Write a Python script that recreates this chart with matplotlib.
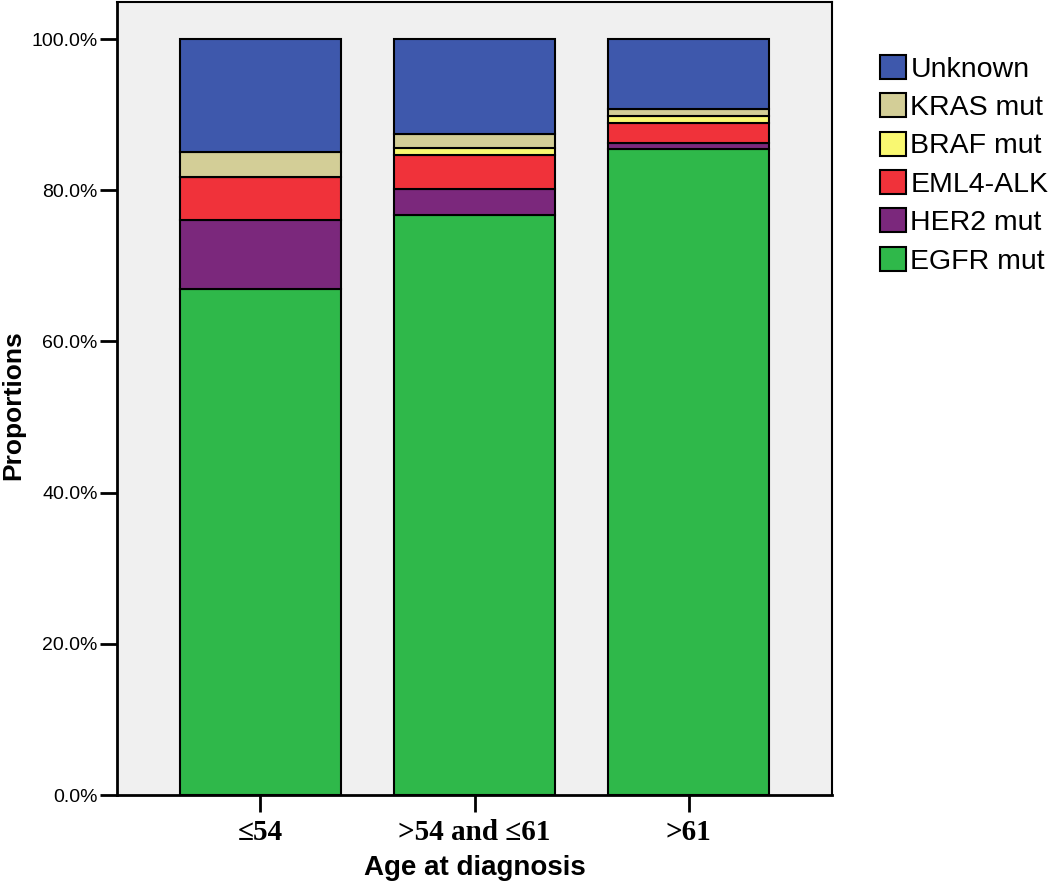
import numpy as np
import matplotlib
matplotlib.use('Agg')
import matplotlib.pyplot as plt
from matplotlib.ticker import PercentFormatter

plt.rcParams['font.family'] = ['Liberation Sans', 'DejaVu Sans']

# 数据
groups = ['≤54', '>54 and ≤61', '>61']
egfr = [66.9, 76.7, 85.5]
her2 = [9.2, 3.5, 0.8]
eml4 = [5.7, 4.5, 2.6]
braf = [0.0, 0.9, 0.9]
kras = [3.3, 1.9, 0.9]
unknown = [14.9, 12.5, 9.3]

series = [('EGFR mut', egfr, '#2fb84a'),
          ('HER2 mut', her2, '#7b287c'),
          ('EML4-ALK', eml4, '#f0323a'),
          ('BRAF mut', braf, '#f9f871'),
          ('KRAS mut', kras, '#d3ce97'),
          ('Unknown', unknown, '#3e58ac')]

serif = ['Liberation Serif', 'DejaVu Serif']

fig = plt.figure(figsize=(10.5, 8.84), dpi=100)
ax = fig.add_axes([117/1050, 1 - 795/884, (832 - 117)/1050, (795 - 2)/884])
ax.set_facecolor('#f0f0f0')

x = np.arange(len(groups))
bottom = np.zeros(len(groups))
handles = []
for name, vals, col in series:
    b = ax.bar(x, vals, 0.75, bottom=bottom, color=col, edgecolor='black',
               linewidth=1.5, label=name)
    handles.append(b)
    bottom += np.array(vals)

ax.set_xlim(-0.668, 2.668)
ax.set_ylim(0, 104.9)
ax.set_yticks([0, 20, 40, 60, 80, 100])
ax.yaxis.set_major_formatter(PercentFormatter(decimals=1))
ax.set_xticks(x)
ax.set_xticklabels(groups, family=serif, fontweight='bold', fontsize=21)
ax.tick_params(axis='both', direction='out', length=12, width=2, color='black')
ax.tick_params(axis='y', pad=2, labelsize=14)
ax.tick_params(axis='x', pad=5)

for s in ['left', 'bottom']:
    ax.spines[s].set_linewidth(2)
for s in ['top', 'right']:
    ax.spines[s].set_linewidth(1.5)

# y 轴标题放在图的最左边
fig.text(13/1050, 1 - 405/884, 'Proportions', rotation=90, ha='center',
         va='center', fontweight='bold', fontsize=19)
ax.set_xlabel('Age at diagnosis', fontweight='bold', fontsize=20, labelpad=7)

leg = fig.legend(handles[::-1], [s[0] for s in series][::-1], loc='upper left',
                 bbox_to_anchor=(880/1050, 1 - 55/884), frameon=False,
                 prop={'size': 20.5}, handlelength=0.92,
                 handleheight=0.92, handletextpad=0.15, labelspacing=0.37,
                 borderaxespad=0, borderpad=0)

fig.savefig('out.png', dpi=100)
